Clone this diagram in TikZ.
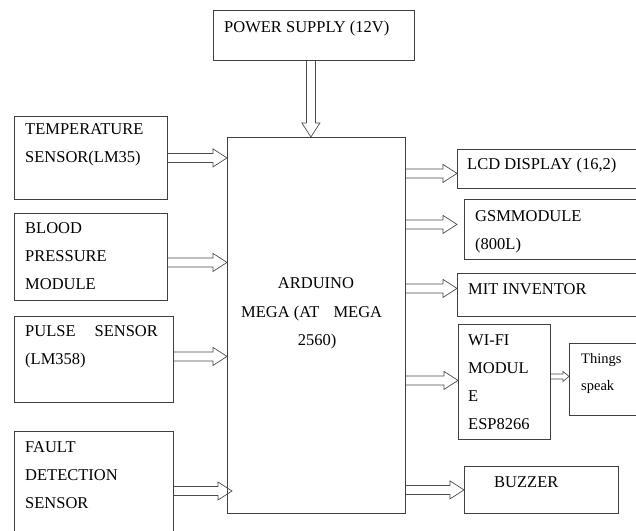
\documentclass[tikz,border=0pt]{standalone}
\usepackage{fontspec}
\setmainfont{Liberation Serif}
\usetikzlibrary{calc}

\begin{document}
\begin{tikzpicture}[x=1pt, y=-1pt,
    box/.style={draw=black!75, line width=0.8pt, anchor=north west, inner sep=0pt},
    txt/.style={anchor=base west, inner sep=0pt, align=left, font=\fontsize{16.5}{28}\selectfont},
    hollow/.style n args={3}{draw=black!70, line width=0.7pt, line join=miter, to path={
      ($(\tikztostart)!#1!-90:(\tikztotarget)$)
      -- ($(\tikztotarget)!#3!(\tikztostart)!#1!-90:(\tikztotarget)$)
      -- ($(\tikztotarget)!#3!(\tikztostart)!#2!-90:(\tikztotarget)$)
      -- (\tikztotarget)
      -- ($(\tikztotarget)!#3!(\tikztostart)!#2!90:(\tikztotarget)$)
      -- ($(\tikztotarget)!#3!(\tikztostart)!#1!90:(\tikztotarget)$)
      -- ($(\tikztostart)!#1!90:(\tikztotarget)$)}},
    feed/.style={hollow={4.5pt}{9pt}{14pt}},
    feedsmall/.style={hollow={2.5pt}{5pt}{6pt}}]
    \useasboundingbox (0,0) rectangle (636,530);
    % Nodes
    \node[box, minimum width=201pt, minimum height=50pt] (power) at (213,10) {};
    \node[box, minimum width=178pt, minimum height=376pt] (main) at (227,137) {};
    \node[box, minimum width=153pt, minimum height=83pt] (temp) at (14,116) {};
    \node[box, minimum width=153pt, minimum height=87pt] (bp) at (14,213) {};
    \node[box, minimum width=159pt, minimum height=86pt] (pulse) at (14,316) {};
    \node[box, minimum width=159pt, minimum height=120pt] (fault) at (14,431) {};
    \node[box, minimum width=190pt, minimum height=39pt] (lcd) at (457,149) {};
    \node[box, minimum width=190pt, minimum height=60pt] (gsm) at (464,199) {};
    \node[box, minimum width=190pt, minimum height=43pt] (mit) at (457,273) {};
    \node[box, minimum width=92pt, minimum height=115pt] (wifi) at (458,324) {};
    \node[box, minimum width=80pt, minimum height=72pt] (things) at (569,343) {};
    \node[box, minimum width=154pt, minimum height=47pt] (buzzer) at (464,466) {};
    % Labels (multi-line ones sit on their last baseline)
    \node[txt] (power-t) at (224,32) {POWER SUPPLY (12V)};
    \node[txt] (temp-t) at (25,162) {TEMPERATURE\\SENSOR(LM35)};
    \node[txt] (bp-t) at (25,289) {BLOOD\\PRESSURE\\MODULE};
    \node[txt] (pulse-t) at (25,364) {PULSE\hspace{19pt}SENSOR\\(LM358)};
    \node[txt] (fault-t) at (25,508) {FAULT\\DETECTION\\SENSOR};
    \node[txt, anchor=base] (main-t1) at (316,288) {ARDUINO};
    \node[txt] (main-t2) at (241,317) {MEGA (AT\hspace{14pt}MEGA};
    \node[txt, anchor=base] (main-t3) at (317,345) {2560)};
    \node[txt] (lcd-t) at (467,169) {LCD DISPLAY (16,2)};
    \node[txt] (gsm-t) at (475,249) {GSMMODULE\\(800L)};
    \node[txt] (mit-t) at (468,294) {MIT INVENTOR};
    \node[txt] (wifi-t) at (468,429) {WI-FI\\MODUL\\E\\ESP8266};
    \node[txt, font=\fontsize{14.5}{27}\selectfont] (things-t) at (581,390) {Things\\speak};
    \node[txt] (buzzer-t) at (494,487) {BUZZER};
    % Edges
    \coordinate (power-o) at ([xshift=-3pt]power.south);
    \coordinate (bp-o) at ([yshift=-5.5pt]bp.east);
    \coordinate (pulse-o) at ([yshift=3pt]pulse.east);
    \coordinate (fault-o) at ([yshift=-60pt]fault.north east);
    \coordinate (fault-i) at ([xshift=5pt]fault-o -| main.west);
    \coordinate (lcd-i) at ([yshift=-4.5pt]lcd.west);
    \coordinate (gsm-i) at ([yshift=5pt,xshift=-7pt]gsm.west);
    \coordinate (mit-i) at ([yshift=6.5pt]mit.west);
    \coordinate (wifi-i) at ([yshift=1.5pt]wifi.west);
    \coordinate (things-i) at ([yshift=3pt]things.west);
    \draw[feed] (power-o) to (power-o |- main.north);
    \draw[feed] (temp.east) to (temp.east -| main.west);
    \draw[feed] (bp-o) to (bp-o -| main.west);
    \draw[feed] (pulse-o) to (pulse-o -| main.west);
    \draw[feed] (fault-o) to (fault-i);
    \draw[feed] (main.east |- lcd-i) to (lcd-i);
    \draw[feed] (main.east |- gsm-i) to (gsm-i);
    \draw[feed] (main.east |- mit-i) to (mit-i);
    \draw[feed] (main.east |- wifi-i) to (wifi-i);
    \draw[feedsmall] (wifi.east |- things-i) to (things-i);
    \draw[feed] (main.east |- buzzer.west) to (buzzer.west);
\end{tikzpicture}
\end{document}
